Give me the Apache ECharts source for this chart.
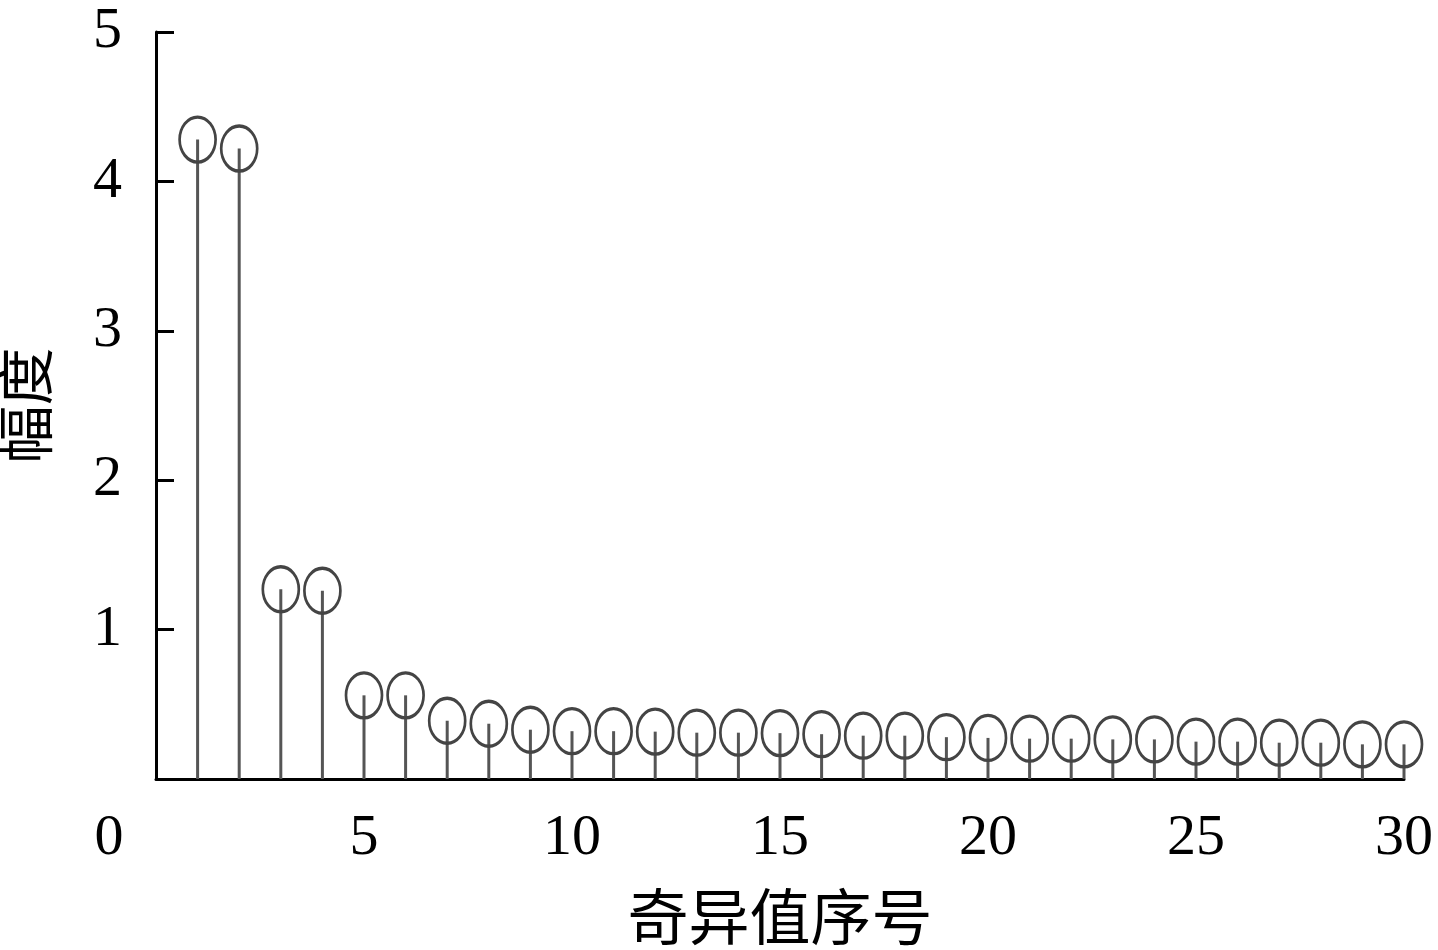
<!DOCTYPE html>
<html>
<head>
<meta charset="utf-8">
<script src="https://cdn.jsdelivr.net/npm/echarts@6/dist/echarts.min.js"></script>
<style>
html,body{margin:0;padding:0;background:#fff;}
#chart{width:1438px;height:950px;}
</style>
</head>
<body>
<div id="chart"></div>
<script>
var indices = [1,2,3,4,5,6,7,8,9,10,11,12,13,14,15,16,17,18,19,20,21,22,23,24,25,26,27,28,29,30];
var magnitudes = [4.28,4.22,1.27,1.26,0.56,0.56,0.39,0.37,0.33,0.32,0.32,0.317,0.31,0.31,0.307,0.30,0.29,0.29,0.28,0.275,0.27,0.27,0.265,0.265,0.25,0.25,0.243,0.243,0.232,0.232];
var xTicks = [0,5,10,15,20,25,30];
var yTicks = [0,1,2,3,4,5];
var xName = '奇异值序号';
var yName = '幅度';

var pts = indices.map(function(x,i){return [x, magnitudes[i]];});
var serif = '"Liberation Serif","Times New Roman","Noto Sans CJK SC",serif';
var chart = echarts.init(document.getElementById('chart'));
chart.setOption({
  animation:false,
  backgroundColor:'#fff',
  grid:{left:156,right:34,top:32,bottom:171,containLabel:false,outerBoundsMode:'none'},
  xAxis:{
    type:'value',min:xTicks[0],max:xTicks[xTicks.length-1],interval:5,
    name:xName,nameLocation:'middle',nameGap:114,
    nameTextStyle:{fontFamily:serif,fontSize:61,color:'#000'},
    axisLine:{show:true,onZero:false,lineStyle:{color:'#000',width:3}},
    axisTick:{show:false},
    splitLine:{show:false},
    axisLabel:{
      margin:31,fontFamily:serif,fontSize:58,color:'#000',
      formatter:function(v){return v===0?'{z|0}':String(v);},
      rich:{z:{fontFamily:serif,fontSize:58,color:'#000',padding:[0,94,0,0]}}
    }
  },
  yAxis:{
    type:'value',min:yTicks[0],max:yTicks[yTicks.length-1],interval:1,
    name:yName,nameLocation:'middle',nameGap:95,nameRotate:90,
    nameTextStyle:{fontFamily:serif,fontSize:58,color:'#000'},
    axisLine:{show:true,lineStyle:{color:'#000',width:3}},
    axisTick:{show:true,inside:true,length:18,lineStyle:{color:'#000',width:3}},
    splitLine:{show:false},
    axisLabel:{
      margin:34,fontFamily:serif,fontSize:58,color:'#000',
      formatter:function(v){return v===0?'':String(v);}
    }
  },
  series:[
    {type:'bar',data:pts,barWidth:3,itemStyle:{color:'#555'},z:2},
    {type:'scatter',data:pts,symbol:'circle',symbolSize:[36,45],
     itemStyle:{color:'rgba(0,0,0,0)',borderColor:'#444',borderWidth:3,opacity:1},z:3}
  ]
});
</script>
</body>
</html>
